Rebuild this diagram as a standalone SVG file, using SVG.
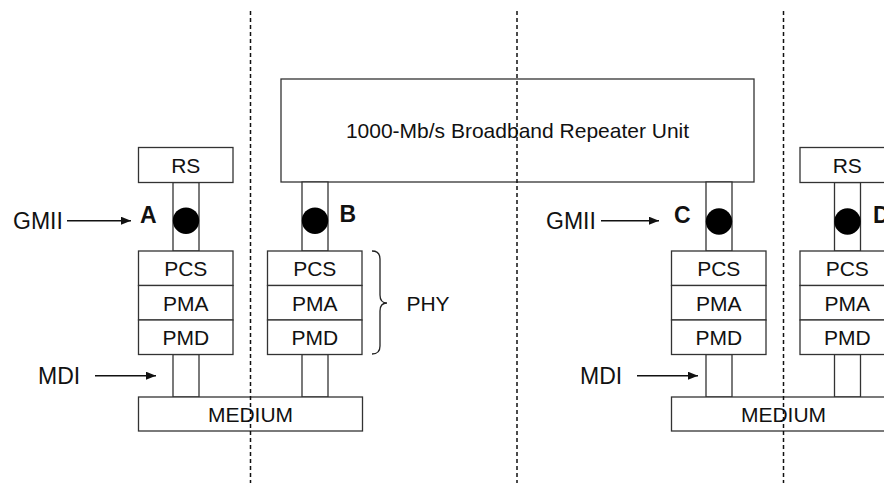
<svg xmlns="http://www.w3.org/2000/svg" width="884" height="486" viewBox="0 0 884 486">
<defs>
<style>
.box{fill:#fff;stroke:#333;stroke-width:1.3}
.stem{fill:#fff;stroke:#333;stroke-width:1.3}
.lbl{font-family:"Liberation Sans",Arial,sans-serif;font-size:21px;fill:#111;text-anchor:middle}
.out{font-family:"Liberation Sans",Arial,sans-serif;font-size:23px;fill:#111}
.pt{font-family:"Liberation Sans",Arial,sans-serif;font-size:23px;font-weight:bold;fill:#111}
.arr{stroke:#111;stroke-width:1.4;fill:none}
.dash{stroke:#111;stroke-width:1.5;stroke-dasharray:4 3;fill:none}
</style>
<marker id="ah" viewBox="0 0 10 8" refX="10" refY="4" markerWidth="10" markerHeight="8" markerUnits="userSpaceOnUse" orient="auto">
<path d="M0,0 L10,4 L0,8 z" fill="#111"/>
</marker>
</defs>

<g id="repeater">
<rect class="box" x="281" y="79" width="473" height="103"/>
<text class="lbl" x="517.5" y="138">1000-Mb/s Broadband Repeater Unit</text>
</g>

<g id="stackA">
<rect class="stem" x="173" y="182.5" width="26" height="68.5"/>
<rect class="stem" x="173" y="354.5" width="26" height="42.5"/>
<rect class="box" x="138.5" y="147.5" width="94.5" height="35"/>
<text class="lbl" x="185.75" y="172.5">RS</text>
<circle cx="186" cy="220.7" r="13.2" fill="#000"/>
<rect class="box" x="138.5" y="251" width="94.5" height="34.5"/>
<text class="lbl" x="185.75" y="276">PCS</text>
<rect class="box" x="138.5" y="285.5" width="94.5" height="34.5"/>
<text class="lbl" x="185.75" y="310.5">PMA</text>
<rect class="box" x="138.5" y="320" width="94.5" height="34.5"/>
<text class="lbl" x="185.75" y="344.5">PMD</text>
</g>

<g id="stackB">
<rect class="stem" x="302" y="182" width="26" height="69"/>
<rect class="stem" x="302" y="354.5" width="26" height="42.5"/>
<circle cx="315" cy="220.7" r="13.2" fill="#000"/>
<rect class="box" x="267.5" y="251" width="94.5" height="34.5"/>
<text class="lbl" x="314.75" y="276">PCS</text>
<rect class="box" x="267.5" y="285.5" width="94.5" height="34.5"/>
<text class="lbl" x="314.75" y="310.5">PMA</text>
<rect class="box" x="267.5" y="320" width="94.5" height="34.5"/>
<text class="lbl" x="314.75" y="344.5">PMD</text>
</g>

<g id="stackC">
<rect class="stem" x="706" y="182" width="26" height="69"/>
<rect class="stem" x="706" y="354.5" width="26" height="42.5"/>
<circle cx="719" cy="221.5" r="13.2" fill="#000"/>
<rect class="box" x="671.5" y="251" width="94.5" height="34.5"/>
<text class="lbl" x="718.75" y="276">PCS</text>
<rect class="box" x="671.5" y="285.5" width="94.5" height="34.5"/>
<text class="lbl" x="718.75" y="310.5">PMA</text>
<rect class="box" x="671.5" y="320" width="94.5" height="34.5"/>
<text class="lbl" x="718.75" y="344.5">PMD</text>
</g>

<g id="stackD">
<rect class="stem" x="834.5" y="182.5" width="26" height="68.5"/>
<rect class="stem" x="834.5" y="354.5" width="26" height="42.5"/>
<rect class="box" x="800" y="147.5" width="94.5" height="35"/>
<text class="lbl" x="847.25" y="172.5">RS</text>
<circle cx="847.5" cy="221.5" r="13.2" fill="#000"/>
<rect class="box" x="800" y="251" width="94.5" height="34.5"/>
<text class="lbl" x="847.25" y="276">PCS</text>
<rect class="box" x="800" y="285.5" width="94.5" height="34.5"/>
<text class="lbl" x="847.25" y="310.5">PMA</text>
<rect class="box" x="800" y="320" width="94.5" height="34.5"/>
<text class="lbl" x="847.25" y="344.5">PMD</text>
</g>

<g id="mediumLeft">
<rect class="box" x="138.5" y="397" width="224" height="34"/>
<text class="lbl" x="250.5" y="421.5">MEDIUM</text>
</g>
<g id="mediumRight">
<rect class="box" x="671.5" y="397" width="224" height="34"/>
<text class="lbl" x="783.5" y="421.5">MEDIUM</text>
</g>

<g id="labels">
<text class="out" x="13" y="229">GMII</text>
<text class="out" x="546" y="229">GMII</text>
<text class="out" x="38" y="384">MDI</text>
<text class="out" x="580" y="384">MDI</text>
<text class="pt" x="140" y="222.7">A</text>
<text class="pt" x="339.5" y="222">B</text>
<text class="pt" x="674" y="222.5">C</text>
<text class="pt" x="873" y="222.5">D</text>
<text class="lbl" x="428" y="310.5">PHY</text>
</g>

<g id="connectors">
<line class="arr" x1="67" y1="220.7" x2="131" y2="220.7" marker-end="url(#ah)"/>
<line class="arr" x1="601" y1="220.7" x2="659" y2="220.7" marker-end="url(#ah)"/>
<line class="arr" x1="95" y1="375.7" x2="156" y2="375.7" marker-end="url(#ah)"/>
<line class="arr" x1="637" y1="375.7" x2="698" y2="375.7" marker-end="url(#ah)"/>
<path d="M372,251 Q380,251 380,259 L380,295 Q380,303 387,303 Q380,303 380,311 L380,346 Q380,354 372,354" fill="none" stroke="#222" stroke-width="1.3"/>
</g>

<g id="dividers">
<line class="dash" x1="250.5" y1="11" x2="250.5" y2="483"/>
<line class="dash" x1="517" y1="11" x2="517" y2="483"/>
<line class="dash" x1="783.5" y1="11" x2="783.5" y2="483"/>
</g>
</svg>
